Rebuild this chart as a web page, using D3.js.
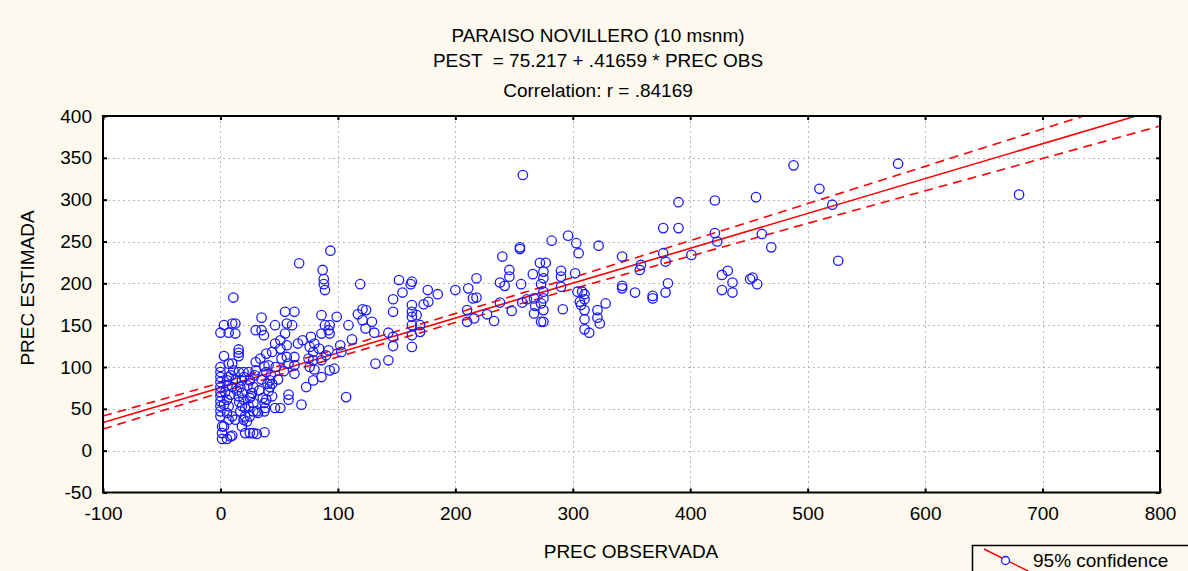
<!DOCTYPE html>
<html>
<head>
<meta charset="utf-8">
<script src="https://cdn.jsdelivr.net/npm/d3@7"></script>
<style>
  html, body { margin: 0; padding: 0; background: #FDF9EE; }
  svg { display: block; }
  text { font-family: "Liberation Sans", Arial, sans-serif; fill: #000; }
</style>
</head>
<body>
<svg id="chart" width="1188" height="571"></svg>
<script>
// ---------------- DATA ----------------
const titleLines = ["PARAISO NOVILLERO (10 msnm)", "PEST  = 75.217 + .41659 * PREC OBS", "Correlation: r = .84169"];
const xLabel = "PREC OBSERVADA";
const yLabel = "PREC ESTIMADA";
const legendLabel = "95% confidence";

const xTicks = [-100, 0, 100, 200, 300, 400, 500, 600, 700, 800];
const yTicks = [-50, 0, 50, 100, 150, 200, 250, 300, 350, 400];

const intercept = 75.217;
const slope = 0.41659;

// 95% confidence band
const ciX     = [-100, 0,    100,   200,   300,   400,   500,   600,   700,   800];
const ciUpper = [41.4, 81.0, 121.8, 163.8, 207.0, 251.0, 295.3, 339.8, 384.4, 429.0];
const ciLower = [25.8, 69.4, 112.0, 153.2, 193.4, 232.6, 271.7, 310.6, 349.2, 388.0];

// observed precipitation (x)
const precObs = [
 11,10,12.7,3,0,7,12.7,15.5,15.5,15.5,3,
 0,0,0,0,0,0,0,0,0,0,0,
 1.4,1.4,1.4,5.6,8.5,10,3,
 7,10,11,7,5.6,10,8.5,5.6,7,5.6,10,7,12.7,
 15.5,19.7,18.3,16.9,18.3,15.5,19.7,18.3,21,16.9,21,19.7,22.5,18.3,
 21,25,28,31,37.5,
 24,30,25,28,27,25,28,24,28,25,31,32,
 30,34,37.5,41,39,42,44,42,41,44,39,37.5,38,37.5,
 39,44,46.5,51,51,56.5,46.5,51,
 30,35,37,35,
 55,63,46.5,56.5,55,61,
 56.5,58,63,63,63,
 58,58,69,
 66,70,77,80,76,79,75,79,76,80,79,86,73,
 86,89,86,93,92,93,99,
 87,88,88,89,93.6,67,
 84,92,90,86,93,97,102,103,
 107,
 3,4,6,9,13,14,16,20,23,26,29,33,35,36,40,43,47,49,52,54,
 257.5,119,
 152,163,162,155,176.5,185,200,
 211,218,215,218,
 147,147,163,163,163,167,173,177,163,170,163,163,170,
 143,147,147,143,132,
 117,121,124,121,123.5,129,131,109,112,
 210,210,216,227,233,238,248,238,242,240,246,246,255,255,256,266,257,261,267,268,267,
 272,275,275,273,275,275,273,275,273,275,277,
 282,296,303,305,322,
 290,290,290,302,304,308,310,310,306,307,310,310,310,314,321,321,323,328,291.5,
 342,342,342,353,368,368,379,381,377,379,357,358,377,390,390,
 401,
 421,421,423,427,432,436,427,436,451,453,457,461,469,456,
 488,510,521,526,577,680
];
// estimated precipitation (y)
const precEst = [
 183,152,152,150,141,141,140,121,117,113,113,
 100,94,88,82,76,70,65,59,53,47,41,
 29,21,14,14,17,18,29,
 104,104,96,88,84,76,67,61,53,45,41,37,37,
 94,94,84,76,69,65,61,53,51,47,41,37,35,29,
 21,21,21,20,22,
 94,96,84,76,69,63,57,53,47,41,47,45,
 106,110,101,102,94,84,80,76,71,65,61,57,51,47,
 116,118,128,132,122,126,51,51,
 144,144,138,159,
 166,166,150,152,140,150,
 112,104,112,102,92,
 67,61,55,
 128,132,136,128,124,118,110,108,100,97,84,88,76,
 162,150,140,150,144,140,160,
 216,205,199,192,239,224,
 122,120,114,108,96,98,126,118,
 64,
 55,70,78,90,85,72,58,88,78,65,90,72,85,63,80,90,100,85,110,95,
 329.5,199,
 204,202,199,189,192,187,192,
 194,206,182,183,
 181,166,174,166,160,162,175,178,150,150,138,124,142,
 141,136,125,108,104,
 163,169,168,156,146,154,141,150,133,
 168,154,158,163,155,177,167,201,197,232,216,208,243,241,199,211,177,181,182,173,164,
 224.5,214,206,199,190,182,176,168,154,154,224.5,
 251,257,248,236,245,
 215,208,196,212,190,190,187,181,178,174,168,157,145,141,168,159,152,176,169,
 232,197,194,189,185,182,189,200,236,226,216,222,266,297,266,
 234,
 299,260,250,210,215,201,192,189,205,207,199,259,243,303,
 341,313,294,227,343,306
];

// ---------------- LAYOUT ----------------
const W = 1188, H = 571;
const plot = { left: 103, right: 1160, top: 116, bottom: 492.5 };

const svg = d3.select("#chart");
svg.append("rect").attr("width", W).attr("height", H).attr("fill", "#FDF9EE");

const x = d3.scaleLinear().domain([-100, 800]).range([plot.left, plot.right]);
const y = d3.scaleLinear().domain([-50, 400]).range([plot.bottom, plot.top]);

svg.append("rect")
  .attr("x", plot.left).attr("y", plot.top)
  .attr("width", plot.right - plot.left).attr("height", plot.bottom - plot.top)
  .attr("fill", "#ffffff");

svg.append("defs").append("clipPath").attr("id", "plotclip")
  .append("rect")
  .attr("x", plot.left).attr("y", plot.top)
  .attr("width", plot.right - plot.left).attr("height", plot.bottom - plot.top);

// grid
const grid = svg.append("g").attr("stroke", "#b8b8b8").attr("stroke-width", 1).attr("stroke-dasharray", "2,3");
grid.selectAll("line.gx").data(xTicks.slice(1, -1)).join("line")
  .attr("x1", d => Math.round(x(d)) + 0.5).attr("x2", d => Math.round(x(d)) + 0.5)
  .attr("y1", plot.top).attr("y2", plot.bottom);
grid.selectAll("line.gy").data(yTicks.slice(1, -1)).join("line")
  .attr("y1", d => Math.round(y(d)) + 0.5).attr("y2", d => Math.round(y(d)) + 0.5)
  .attr("x1", plot.left).attr("x2", plot.right);

// axes
const fontSize = 19;
const fmt = d => String(d);
const axL = svg.append("g").attr("transform", `translate(${plot.left},0)`)
  .call(d3.axisLeft(y).tickValues(yTicks).tickSize(-4).tickPadding(11).tickFormat(fmt));
const axB = svg.append("g").attr("transform", `translate(0,${plot.bottom})`)
  .call(d3.axisBottom(x).tickValues(xTicks).tickSize(-4).tickPadding(14).tickFormat(fmt));
const axR = svg.append("g").attr("transform", `translate(${plot.right},0)`)
  .call(d3.axisRight(y).tickValues(yTicks).tickSize(-4).tickFormat(""));
const axT = svg.append("g").attr("transform", `translate(0,${plot.top})`)
  .call(d3.axisTop(x).tickValues(xTicks).tickSize(-4).tickFormat(""));
[axL, axB, axR, axT].forEach(a => {
  a.select(".domain").remove();
  a.selectAll(".tick line").attr("stroke", "#000").attr("stroke-width", 2);
  a.selectAll(".tick text").attr("font-size", fontSize).attr("font-family", '"Liberation Sans", Arial, sans-serif').attr("fill", "#000");
});

// lines (clipped)
const lineG = svg.append("g").attr("clip-path", "url(#plotclip)");
const regLine = d3.line().x(d => x(d)).y(d => y(intercept + slope * d));
lineG.append("path").datum([-100, 800]).attr("d", regLine)
  .attr("fill", "none").attr("stroke", "#ff0000").attr("stroke-width", 1.6);
const bandLine = d3.line().x(d => x(d[0])).y(d => y(d[1]));
[ciUpper, ciLower].forEach(arr => {
  lineG.append("path").datum(ciX.map((v, i) => [v, arr[i]])).attr("d", bandLine)
    .attr("fill", "none").attr("stroke", "#ff0000").attr("stroke-width", 1.6)
    .attr("stroke-dasharray", "9,6");
});

// points
const ptG = svg.append("g").attr("clip-path", "url(#plotclip)");
ptG.selectAll("circle").data(precObs.map((v, i) => [v, precEst[i]])).join("circle")
  .attr("cx", d => x(d[0])).attr("cy", d => y(d[1])).attr("r", 4.7)
  .attr("fill", "none").attr("stroke", "#1a1aff").attr("stroke-width", 1.3);

// frame
svg.append("rect")
  .attr("x", plot.left).attr("y", plot.top)
  .attr("width", plot.right - plot.left).attr("height", plot.bottom - plot.top)
  .attr("fill", "none").attr("stroke", "#000").attr("stroke-width", 2);

// titles
const titleY = [41.5, 66.5, 96.5];
titleLines.forEach((t, i) => {
  svg.append("text").attr("x", 598).attr("y", titleY[i]).attr("text-anchor", "middle")
    .attr("font-size", fontSize).style("white-space", "pre").text(t);
});

svg.append("text").attr("x", 631).attr("y", 558).attr("text-anchor", "middle")
  .attr("font-size", fontSize).text(xLabel);
svg.append("text").attr("transform", "translate(34,288) rotate(-90)").attr("text-anchor", "middle")
  .attr("font-size", fontSize).text(yLabel);

// legend
const lg = svg.append("g");
lg.append("rect").attr("x", 972.5).attr("y", 545.5).attr("width", 240).attr("height", 40)
  .attr("fill", "#FDF9EE").attr("stroke", "#000").attr("stroke-width", 1.5);
lg.append("line").attr("x1", 984).attr("y1", 549).attr("x2", 1028).attr("y2", 571)
  .attr("stroke", "#ff0000").attr("stroke-width", 1.5);
lg.append("circle").attr("cx", 1005.5).attr("cy", 560.5).attr("r", 4)
  .attr("fill", "#ffffff").attr("stroke", "#1a1aff").attr("stroke-width", 1.3);
lg.append("text").attr("x", 1033).attr("y", 566.5).attr("font-size", fontSize).text(legendLabel);
</script>
</body>
</html>
